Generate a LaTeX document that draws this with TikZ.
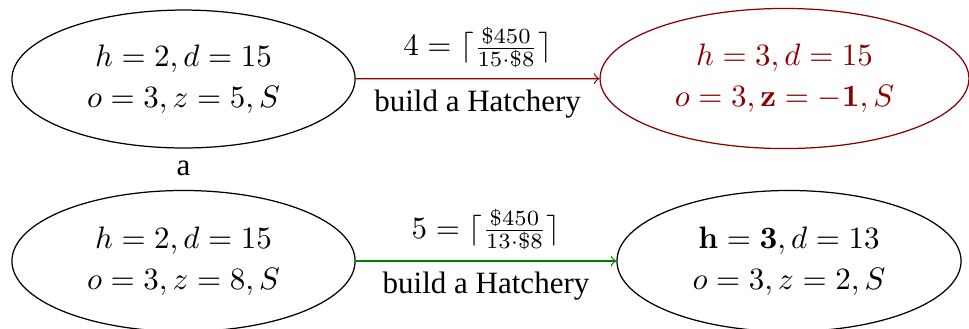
\documentclass[tikz,border=0pt]{standalone}
\usepackage[no-math]{fontspec}
\setmainfont{Liberation Serif}
\usetikzlibrary{shapes.geometric}
\definecolor{dred}{RGB}{139,0,0}
\definecolor{dgreen}{RGB}{0,128,0}
\begin{document}
\begin{tikzpicture}[x=0.3226pt,y=-0.3226pt,
  state/.style={ellipse,draw,inner sep=0pt,align=center,minimum width=110.7pt,minimum height=44.5pt},
  lbl/.style={midway,text=black}]
\useasboundingbox (0,0) rectangle (969,328);
\node[state] (tl) at (183.5,79) {$h=2, d=15$\\[1.2pt]$o=3, z=5, S$};
\node[state,draw=dred,text=dred,minimum width=119pt,minimum height=45.2pt] (tr) at (784.5,78.5) {$h=3, d=15$\\[1.2pt]$o=3, \mathbf{z}=\mathbf{-1}, S$};
\node[state,minimum height=45.5pt] (bl) at (183.5,261) {$h=2, d=15$\\[1.2pt]$o=3, z=8, S$};
\node[state,minimum width=111pt,minimum height=45.5pt] (br) at (789,261) {$\mathbf{h}=\mathbf{3}, d=13$\\[1.2pt]$o=3, z=2, S$};
\node (cap) at (183.5,168) {a};
\draw[->,dred] (tl) -- (tr)
  node[lbl,above] {$4=\lceil\frac{\$450}{15\cdot\$8}\rceil$}
  node[lbl,below] {build a Hatchery};
\draw[->,dgreen] (bl) -- (br)
  node[lbl,above] {$5=\lceil\frac{\$450}{13\cdot\$8}\rceil$}
  node[lbl,below] {build a Hatchery};
\end{tikzpicture}
\end{document}
